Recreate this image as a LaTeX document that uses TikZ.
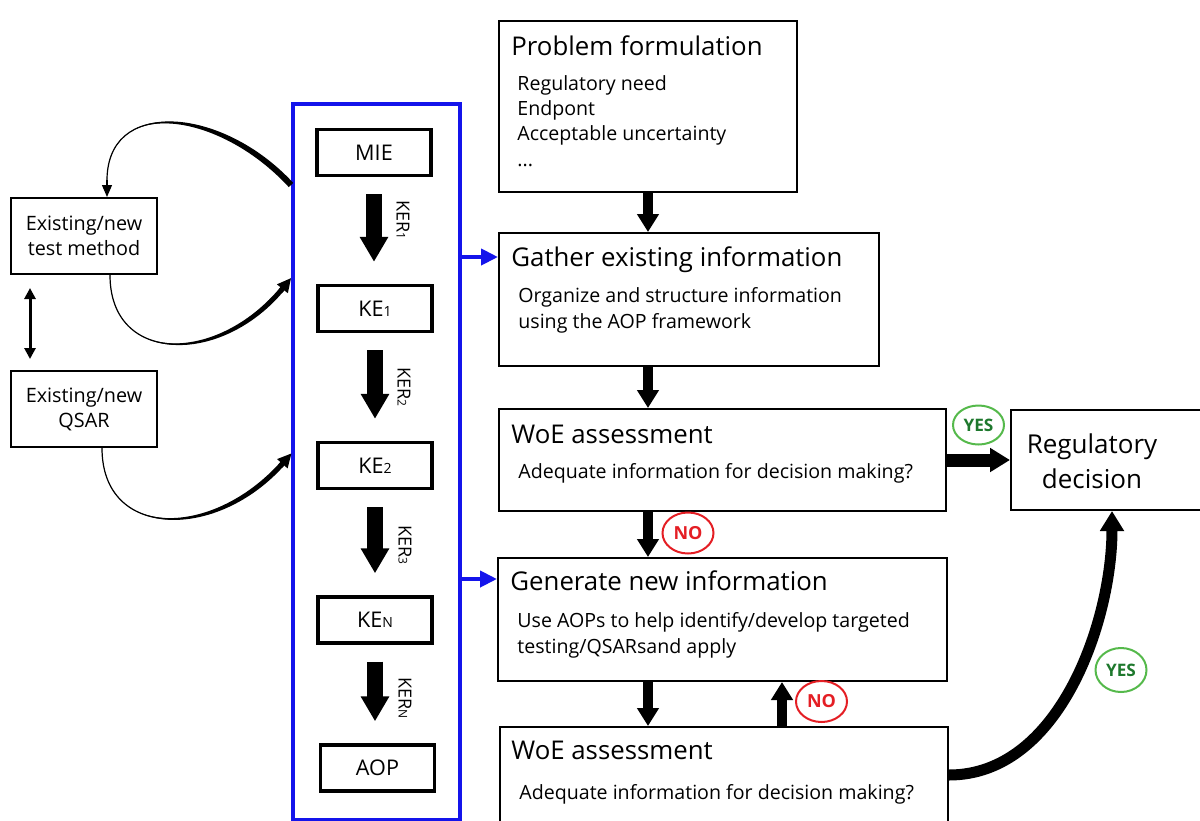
\documentclass[tikz,border=0pt]{standalone}
\usepackage{fontspec}
\setmainfont{Open Sans}
\usetikzlibrary{arrows.meta,calc,shapes.geometric}
\definecolor{aopblue}{RGB}{20,20,235}
\definecolor{noRed}{RGB}{228,30,36}
\definecolor{yesRing}{RGB}{85,185,75}
\definecolor{yesText}{RGB}{30,120,45}
% small index set on the baseline, as in KE1 / KER1
\newcommand\lowidx[1]{{\fontsize{7}{8}\selectfont #1}}
\newcommand\kerlow[1]{{\fontsize{6}{7}\selectfont #1}}
\begin{document}
\begin{tikzpicture}[x=0.5pt,y=-0.5pt,
  rbox/.style={draw,line width=1pt,anchor=north west,inner sep=0pt},
  lbox/.style={draw,line width=1pt,inner sep=0pt,minimum width=73pt,minimum height=38pt,
    align=center,font=\fontsize{9.9}{12.5}\selectfont},
  evbox/.style={draw,line width=1.7pt,inner sep=0pt,minimum width=57pt,minimum height=23pt,
    font=\fontsize{10.8}{13}\selectfont},
  ttl/.style={anchor=base west,inner sep=0pt,font=\fontsize{12.9}{15}\selectfont},
  sub/.style={anchor=base west,inner sep=0pt,font=\fontsize{9.8}{12.5}\selectfont},
  kerlbl/.style={rotate=-90,inner sep=0pt,font=\fontsize{9}{10}\selectfont},
  kerarrow/.style={line width=8pt,-{Triangle[width=13.5pt,length=12.5pt]},
    shorten <=8.5pt,shorten >=11pt},
  flowarrow/.style={line width=5pt,-{Triangle[width=10.5pt,length=9pt]}},
  bluearrow/.style={draw=aopblue,line width=2pt,-{Triangle[width=8pt,length=8.5pt]},color=aopblue},
  noring/.style={draw=noRed,line width=1pt,ellipse,inner sep=0pt,minimum width=25.5pt,
    minimum height=20.5pt,text=noRed,font=\fontsize{9}{10}\selectfont\bfseries},
  yesring/.style={draw=yesRing,line width=1pt,ellipse,inner sep=0pt,minimum width=25.5pt,
    minimum height=19.5pt,text=yesText,font=\fontsize{8.6}{10}\selectfont\bfseries},
]
\useasboundingbox (0,0) rectangle (1200,820);

% ---------- blue AOP column ----------
\node[draw=aopblue,line width=2pt,anchor=north west,inner sep=0pt,
  minimum width=83.5pt,minimum height=358pt] (kebox) at (291,102) {};
\node[evbox] (mie) at (374,152.5) {MIE};
\node[evbox] (ke1) at (375,308.5) {KE\lowidx{1}};
\node[evbox] (ke2) at (375,465.5) {KE\lowidx{2}};
\node[evbox] (ken) at (375,620)   {KE\lowidx{N}};
\node[evbox] (aop) at (377.5,768) {AOP};

\draw[kerarrow] (mie.south) -- (mie.south |- ke1.north);
\draw[kerarrow] (ke1.south) -- (ke1.south |- ke2.north);
\draw[kerarrow] (ke2.south) -- (ke2.south |- ken.north);
\draw[kerarrow] (ken.south) -- (ken.south |- aop.north);
\node[kerlbl] (ker1) at (403,220) {KER\kerlow{1}};
\node[kerlbl] (ker2) at (404,387) {KER\kerlow{2}};
\node[kerlbl] (ker3) at (405,545) {KER\kerlow{3}};
\node[kerlbl] (kern) at (405,698) {KER\kerlow{N}};

% ---------- left: test methods and QSARs ----------
\node[lbox] (tm) at (84,236) {Existing/new\\test method};
\node[lbox] (qs) at (84,409) {Existing/new\\QSAR};
\draw[line width=1.5pt,{Triangle[width=5.5pt,length=5.5pt]}-{Triangle[width=5.5pt,length=5.5pt]},
  shorten <=6.5pt,shorten >=5.5pt] (30,0 |- tm.south) -- (30,0 |- qs.north);

% tapered curve from the AOP column back to the test method
\coordinate (kout) at (291,185);
\coordinate (tmin) at ([xshift=11.5pt]tm.north);
\fill (293.2,182.9) .. controls (222.2,105.9) and (105,96) .. (107,183)
      .. controls (105,96) and (217.8,110.1) .. (288.8,187.1) -- cycle;
\draw[line width=0.6pt] (kout) .. controls (220,108) and (105,96) .. (107,183);
\draw[line width=0.6pt,-{Triangle[width=5pt,length=6pt]}] (107,180) -- (tmin);

% tapered curve from the test method into the AOP column
\coordinate (tmout) at ([xshift=13pt]tm.south);
\coordinate (kin1) at (291.2,277.9);
\fill (tmout) .. controls (110,365) and (221.9,366.6) .. (284.9,289.6)
      -- (281.1,286.4) .. controls (218.1,363.4) and (110,365) .. (tmout) -- cycle;
\draw[line width=0.6pt] (tmout) .. controls (110,365) and (220,365) .. (283,288);
\draw[line width=2.5pt,-{Triangle[width=6.5pt,length=7pt]}] (280.5,291.1) -- (kin1);

% tapered curve from the QSAR into the AOP column
\coordinate (qsout) at ([xshift=9pt]qs.south);
\coordinate (kin2) at (291.6,453.25);
\fill (qsout) .. controls (102,540) and (216.9,541.7) .. (284.9,464.7)
      -- (281.1,461.3) .. controls (213.1,538.3) and (102,540) .. (qsout) -- cycle;
\draw[line width=0.6pt] (qsout) .. controls (102,540) and (215,540) .. (283,463);
\draw[line width=2.5pt,-{Triangle[width=6.5pt,length=7pt]}] (280.35,466) -- (kin2);

% ---------- right: decision flow ----------
\node[rbox,minimum width=149pt,minimum height=85.5pt] (pf) at (498,20) {};
\node[ttl] at (511,55) {Problem formulation};
\node[sub] at (517,90)  {Regulatory need};
\node[sub] at (517,115) {Endpont};
\node[sub] at (517,140) {Acceptable uncertainty};
\node[sub] at (517,166) {...};

\node[rbox,minimum width=190pt,minimum height=66.5pt] (ga) at (498,232) {};
\node[ttl] at (511,266) {Gather existing information};
\node[sub] at (518,302) {Organize and structure information};
\node[sub] at (518,328) {using the AOP framework};

\node[rbox,minimum width=223.5pt,minimum height=51pt] (w1) at (498,408) {};
\node[ttl] at (511,443) {WoE assessment};
\node[sub] at (518,478) {Adequate information for decision making?};

\node[rbox,minimum width=224.5pt,minimum height=61.5pt] (gn) at (497,557) {};
\node[ttl] at (510,590) {Generate new information};
\node[sub] at (517,627) {Use AOPs to help identify/develop targeted};
\node[sub] at (517,653) {testing/QSARsand apply};

\node[rbox,minimum width=224pt,minimum height=62pt] (w2) at (499,726) {};
\node[ttl] at (511,759) {WoE assessment};
\node[sub] at (519,799) {Adequate information for decision making?};

\node[rbox,minimum width=97pt,minimum height=50pt] (rd) at (1010,409) {};
\node[align=center,inner sep=0pt,font=\fontsize{13}{17.5}\selectfont]
  at (1092,461) {Regulatory\\decision};

\draw[flowarrow] (pf.south) -- (pf.south |- ga.north);
\draw[flowarrow] (pf.south |- ga.south) -- (pf.south |- w1.north);
\draw[flowarrow] (pf.south |- w1.south) -- (pf.south |- gn.north);
\draw[flowarrow] (pf.south |- gn.south) -- (pf.south |- w2.north);
\draw[flowarrow] (782,0 |- w2.north) -- (782,0 |- gn.south);

\draw[line width=6.5pt,-{Triangle[width=11.5pt,length=10pt]}] (w1.east) -- (rd.west);
\coordinate (w2out) at (w2.north east |- 0,775);
\coordinate (rdin) at (1112,0 |- rd.south);
\draw[line width=5.5pt,-{Triangle[width=11.5pt,length=10pt]}]
  (w2out) .. controls (1060,775) and (1112,620) .. (rdin);

\draw[bluearrow] (kebox.east |- 0,257) -- (ga.west |- 0,257);
\draw[bluearrow] (kebox.east |- 0,579) -- (gn.west |- 0,579);

\node[noring] (no1) at (688,533) {NO};
\node[noring] (no2) at (821.5,701.5) {NO};
\node[yesring] (yes1) at (978.5,425) {YES};
\node[yesring,minimum height=22pt] (yes2) at (1121,670) {YES};
\end{tikzpicture}
\end{document}
